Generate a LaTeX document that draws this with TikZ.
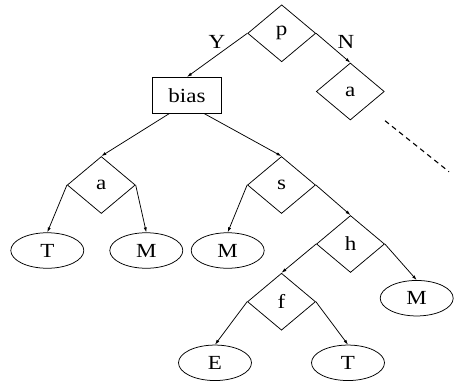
\documentclass[tikz,border=0pt]{standalone}
\usepackage{fontspec}
\setmainfont[FakeStretch=1.15]{Liberation Serif}
\usetikzlibrary{shapes.geometric,arrows.meta}
\tikzset{
  test/.style={draw, diamond, inner sep=0pt, minimum width=68pt, minimum height=57pt},
  leaf/.style={draw, ellipse, inner sep=0pt, minimum width=73pt, minimum height=35.5pt},
  act/.style={draw, rectangle, inner sep=0pt, minimum width=69pt, minimum height=36pt},
  edge/.style={-{Latex[length=5pt,width=3.2pt]}, line width=0.75pt},
  lbl/.style={inner sep=0pt},
  every node/.style={font=\fontsize{20}{24}\selectfont, line width=0.75pt}
}
\begin{document}
\begin{tikzpicture}[x=1pt,y=-1pt]
  \useasboundingbox (0,0) rectangle (454,386);
  % decision nodes
  \node[test] (p)  at (281.7,33.3) {p};
  \node[test] (ar) at (350.3,91.5) {a};
  \node[test] (al) at (101.3,185) {a};
  \node[test] (s)  at (281.5,185) {s};
  \node[test] (h)  at (350.5,244) {h};
  \node[test] (f)  at (281.5,301.7) {f};
  % action node
  \node[act] (bias) at (187,95.3) {bias};
  % leaves
  \node[leaf] (t1) at (47.3,250.5) {T};
  \node[leaf] (m1) at (146.3,250.5) {M};
  \node[leaf] (m2) at (227.7,250.5) {M};
  \node[leaf] (m3) at (416.7,298.2) {M};
  \node[leaf] (e)  at (215,362.8) {E};
  \node[leaf] (t2) at (348,362.8) {T};
  % branch labels
  \node[lbl] (yes) at (217,42) {Y};
  \node[lbl] (no)  at (346,42) {N};
  % edges
  \draw[edge] (p.west) -- (bias.north);
  \draw[edge] (p.east) -- (ar.north);
  \draw[edge] ([xshift=17pt]bias.south west) -- (al.north);
  \draw[edge] ([xshift=-17.5pt]bias.south east) -- (s.north);
  \draw[edge] (al.west) -- (t1.north);
  \draw[edge] (al.east) -- (m1.north);
  \draw[edge] (s.west) -- (m2.north);
  \draw[edge] (s.east) -- (h.north);
  \draw[edge] (h.west) -- (f.north);
  \draw[edge] (h.east) -- (m3.north);
  \draw[edge] (f.west) -- (e.north);
  \draw[edge] (f.east) -- (t2.north);
  % continuation of the N branch
  \coordinate (c1) at (385,120.7);
  \coordinate (c2) at (449,171.7);
  \draw[line width=1.1pt, dash pattern=on 5pt off 4pt] (c1) -- (c2);
\end{tikzpicture}
\end{document}
